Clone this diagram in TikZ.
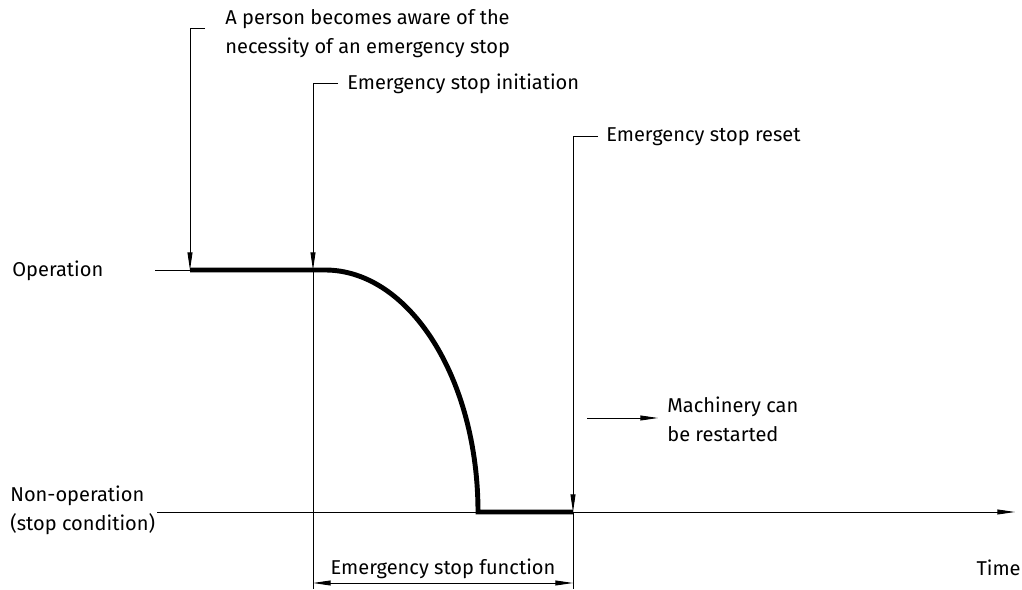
\documentclass[tikz,border=0pt]{standalone}
\usepackage{fontspec}
\setmainfont{Fira Sans}
\usetikzlibrary{arrows.meta}

\begin{document}
\begin{tikzpicture}[x=0.02cm,y=-0.02cm,>={Triangle[length=10pt,width=2.8pt]},
  thinline/.style={line width=0.5pt},
  signal/.style={line width=2.8pt},
  lbl/.style={anchor=west,inner sep=0pt,align=left,font=\fontsize{11.4}{16.4}\selectfont}]
\useasboundingbox (0,0) rectangle (1022,590);
% points of the signal
\coordinate (op0) at (155,270);
\coordinate (aware) at (190,270);
\coordinate (init) at (313,270);
\coordinate (bend) at (325,270);
\coordinate (halt) at (478,512);
\coordinate (reset) at (573,512);
\coordinate (non0) at (157,512);
\coordinate (tend) at (1015,512);
% label stubs and dimension line
\coordinate (s1) at (205,28);
\coordinate (s2) at (338,83);
\coordinate (s3) at (598,136);
\coordinate (dimL) at (313,583);
\coordinate (dimR) at (573,583);
\coordinate (extL) at (313,589);
\coordinate (extR) at (573,589);
\coordinate (m0) at (587,418);
\coordinate (m1) at (658,418);
% texts
\node[lbl] (op) at (12,271) {Operation};
\node[lbl] (non) at (10,510) {Non-operation\\(stop condition)};
\node[lbl,anchor=east] (time) at (1021,568) {Time};
\node[lbl] (awaretxt) at (225,34) {A person becomes aware of the\\necessity of an emergency stop};
\node[lbl] (inittxt) at (347,84) {Emergency stop initiation};
\node[lbl] (resettxt) at (606,137) {Emergency stop reset};
\node[lbl] (restart) at (667,419) {Machinery can\\be restarted};
\node[lbl,anchor=center] (func) at (443,569) {Emergency stop function};
% axes
\draw[thinline] (op0)--(aware);
\draw[thinline,->] (non0)--(tend);
% signal
\draw[signal] (aware)--(bend) .. controls (409,270) and (478,378) .. (halt)--(reset);
% leaders
\draw[thinline,->] (s1) -| (aware);
\draw[thinline,->] (s2) -| (init);
\draw[thinline,->] (s3) -| (reset);
\draw[thinline] (init)--(extL) (reset)--(extR);
\draw[thinline,<->] (dimL)--(dimR);
\draw[thinline,->] (m0)--(m1);
\end{tikzpicture}
\end{document}
